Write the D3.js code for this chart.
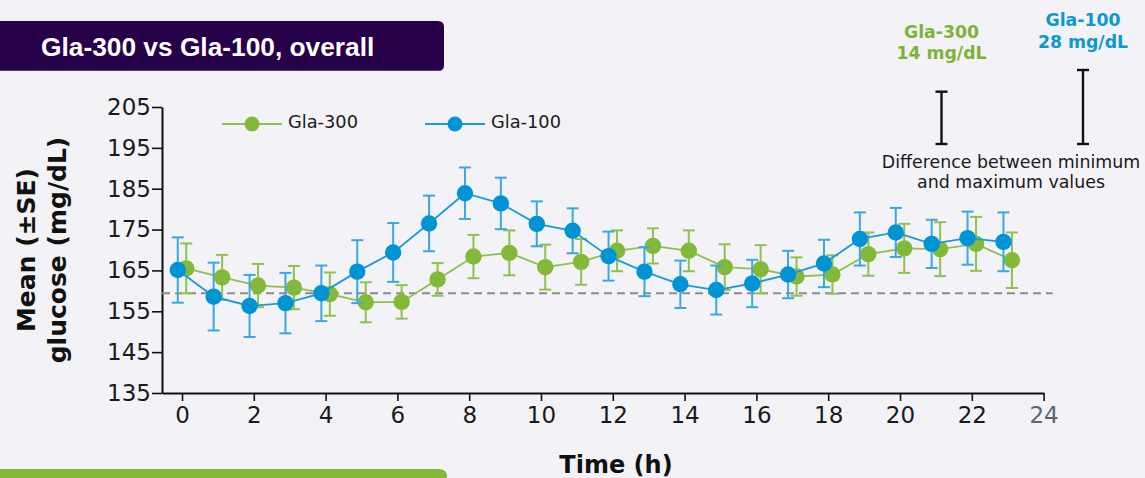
<!DOCTYPE html>
<html>
<head>
<meta charset="utf-8">
<script src="https://cdn.jsdelivr.net/npm/d3@7"></script>
<style>
  html, body { margin: 0; padding: 0; background: #f3f2f7; }
  svg { display: block; }
</style>
</head>
<body>
<svg id="chart" width="1145" height="478"></svg>
<script>
// Hourly mean glucose (mg/dL) with standard errors
const hours = d3.range(0, 24);
const gla300Mean = [165.5, 163.3, 161.3, 160.8, 159.2, 157.2, 157.3, 162.8, 168.4, 169.3, 165.8, 167.1,
                    169.8, 171.0, 169.8, 165.8, 165.3, 163.5, 164.0, 169.0, 170.4, 170.2, 171.5, 167.5];
const gla300SE   = [6.1, 5.5, 5.3, 5.3, 5.3, 4.9, 4.1, 4.0, 5.3, 5.5, 5.5, 5.6,
                    5.0, 4.3, 5.0, 5.6, 5.9, 4.7, 4.7, 5.3, 6.0, 6.6, 6.6, 6.8];
const gla100Mean = [165.1, 158.6, 156.3, 157.0, 159.4, 164.7, 169.4, 176.5, 183.9, 181.4, 176.4, 174.7,
                    168.5, 164.7, 161.6, 160.2, 161.8, 164.0, 166.7, 172.7, 174.3, 171.5, 172.9, 172.0];
const gla100SE   = [8.0, 8.3, 7.6, 7.4, 6.8, 7.7, 7.2, 6.8, 6.3, 6.3, 5.5, 5.5,
                    6.0, 6.0, 5.8, 6.0, 5.8, 5.8, 5.8, 6.5, 6.0, 5.9, 6.5, 7.2];
const referenceLevel = 159.4;

const yTicks = [135, 145, 155, 165, 175, 185, 195, 205];
const xTicks = [0, 2, 4, 6, 8, 10, 12, 14, 16, 18, 20, 22, 24];

const seriesNames = ["Gla-300", "Gla-100"];
const rangeLabels = ["14 mg/dL", "28 mg/dL"];
const rangeValues = [14, 28];

const titleText = "Gla-300 vs Gla-100, overall";
const yTitleLines = ["Mean (\u00B1SE)", "glucose (mg/dL)"];
const xTitle = "Time (h)";
const noteLines = ["Difference between minimum", "and maximum values"];

// ---- styling ----
const FONT = "'DejaVu Sans', Verdana, sans-serif";
const green = { line: "#8dc04c", dot: "#82b939", bar: "#8fc150", text: "#7db33a" };
const blue  = { line: "#1b9ad6", dot: "#0094d4", bar: "#3aa8de", text: "#0f97d3" };

const svg = d3.select("#chart");

// Title banner
svg.append("path")
  .attr("d", "M0,21 H438 Q444,21 444,27 V65 Q444,71 438,71 H0 Z")
  .attr("fill", "#27004a");
svg.append("line")
  .attr("x1", 0).attr("x2", 440).attr("y1", 70.5).attr("y2", 70.5)
  .attr("stroke", "#5b3a80").attr("stroke-width", 1);
svg.append("text")
  .attr("x", 41).attr("y", 55.5)
  .attr("font-family", "'Liberation Sans', Arial, sans-serif")
  .attr("font-weight", "bold").attr("font-size", 26.3)
  .attr("fill", "#ffffff")
  .text(titleText);

// Green band at the bottom
svg.append("path")
  .attr("d", "M0,469 H439 Q447,469 447,477 V490 H0 Z")
  .attr("fill", "#84b83b");

// Scales
const x = d3.scaleLinear().domain([-0.557, 24]).range([162, 1043.6]);
const y = d3.scaleLinear().domain([135, 205]).range([393, 107]);

// Axes
const yAxis = svg.append("g")
  .attr("transform", "translate(162,0)")
  .call(d3.axisLeft(y).tickValues(yTicks).tickSize(10).tickSizeOuter(0).tickPadding(1));
const xAxis = svg.append("g")
  .attr("transform", "translate(0,393)")
  .call(d3.axisBottom(x).tickValues(xTicks).tickSize(8).tickSizeOuter(0).tickPadding(6));

[yAxis, xAxis].forEach(g => {
  g.select(".domain").attr("stroke", "#111").attr("stroke-width", 2);
  g.selectAll(".tick line").attr("stroke", "#111").attr("stroke-width", 1.6);
  g.selectAll(".tick text")
    .attr("font-family", FONT).attr("font-size", 23).attr("fill", "#1a1a1a");
});
xAxis.selectAll(".tick text").filter(d => d === 24).attr("fill", "#5f6670");

// Axis titles
const yTitle = svg.append("text")
  .attr("transform", "translate(0,250) rotate(-90)")
  .attr("text-anchor", "middle")
  .attr("font-family", FONT).attr("font-weight", "bold").attr("font-size", 25)
  .attr("fill", "#111");
yTitle.selectAll("tspan").data(yTitleLines).join("tspan")
  .attr("x", 0).attr("y", (d, i) => 35 + i * 31)
  .text(d => d);

svg.append("text")
  .attr("x", 616).attr("y", 473)
  .attr("text-anchor", "middle")
  .attr("font-family", FONT).attr("font-weight", "bold").attr("font-size", 24)
  .attr("fill", "#111")
  .text(xTitle);

// Reference level
svg.append("line")
  .attr("x1", x.range()[0]).attr("x2", x(24.25))
  .attr("y1", y(referenceLevel)).attr("y2", y(referenceLevel))
  .attr("stroke", "#8c8c8c").attr("stroke-width", 2)
  .attr("stroke-dasharray", "8,5");

// Series
const series = [
  { name: seriesNames[0], mean: gla300Mean, se: gla300SE, col: green, shift: 0.118 },
  { name: seriesNames[1], mean: gla100Mean, se: gla100SE, col: blue, shift: -0.118 }
];

const CAP = 6;
series.forEach(s => {
  const pts = hours.map((h, i) => ({ t: h + s.shift, m: s.mean[i], e: s.se[i] }));
  const g = svg.append("g");

  g.append("path")
    .datum(pts)
    .attr("fill", "none")
    .attr("stroke", s.col.line).attr("stroke-width", 1.8)
    .attr("d", d3.line().x(d => x(d.t)).y(d => y(d.m)));

  const eb = g.selectAll("g.err").data(pts).join("g").attr("class", "err")
    .attr("stroke", s.col.bar).attr("stroke-width", 2);
  eb.append("line")
    .attr("x1", d => x(d.t)).attr("x2", d => x(d.t))
    .attr("y1", d => y(d.m + d.e)).attr("y2", d => y(d.m - d.e));
  eb.append("line")
    .attr("x1", d => x(d.t) - CAP).attr("x2", d => x(d.t) + CAP)
    .attr("y1", d => y(d.m + d.e)).attr("y2", d => y(d.m + d.e));
  eb.append("line")
    .attr("x1", d => x(d.t) - CAP).attr("x2", d => x(d.t) + CAP)
    .attr("y1", d => y(d.m - d.e)).attr("y2", d => y(d.m - d.e));

  g.selectAll("circle").data(pts).join("circle")
    .attr("cx", d => x(d.t)).attr("cy", d => y(d.m))
    .attr("r", 8.2)
    .attr("fill", s.col.dot);
});

// Legend
const legendX = [222, 425];
series.forEach((s, i) => {
  const lg = svg.append("g").attr("transform", `translate(${legendX[i]},124)`);
  lg.append("line").attr("x1", 0).attr("x2", 60).attr("y1", 0).attr("y2", 0)
    .attr("stroke", s.col.line).attr("stroke-width", 1.8);
  lg.append("circle").attr("cx", 30).attr("cy", 0).attr("r", 7.5).attr("fill", s.col.dot);
  lg.append("text").attr("x", 66).attr("y", 4)
    .attr("font-family", FONT).attr("font-size", 17.8).attr("fill", "#1a1a1a")
    .text(s.name);
});

// Min–max range annotation
const rangeLen = d3.scaleSqrt().domain([0, 28]).range([0, 74]);
const annX = [941.5, 1083];
const labelTop = [37.5, 26];
const bracketBase = 144;
series.forEach((s, i) => {
  const t = svg.append("text")
    .attr("text-anchor", "middle")
    .attr("font-family", FONT).attr("font-weight", "bold").attr("font-size", 17.3)
    .attr("fill", s.col.text);
  t.append("tspan").attr("x", annX[i]).attr("y", labelTop[i]).text(s.name);
  t.append("tspan").attr("x", annX[i]).attr("y", labelTop[i] + 21.5).text(rangeLabels[i]);

  const top = bracketBase - rangeLen(rangeValues[i]);
  const b = svg.append("g").attr("stroke", "#111").attr("stroke-width", 2.4);
  b.append("line").attr("x1", annX[i]).attr("x2", annX[i]).attr("y1", top).attr("y2", bracketBase);
  b.append("line").attr("x1", annX[i] - 6).attr("x2", annX[i] + 6).attr("y1", top).attr("y2", top);
  b.append("line").attr("x1", annX[i] - 6).attr("x2", annX[i] + 6).attr("y1", bracketBase).attr("y2", bracketBase);
});

const note = svg.append("text")
  .attr("text-anchor", "middle")
  .attr("font-family", FONT).attr("font-size", 17.4).attr("fill", "#1a1a1a");
note.selectAll("tspan").data(noteLines).join("tspan")
  .attr("x", 1011).attr("y", (d, i) => 167.5 + i * 20.5)
  .text(d => d);
</script>
</body>
</html>
